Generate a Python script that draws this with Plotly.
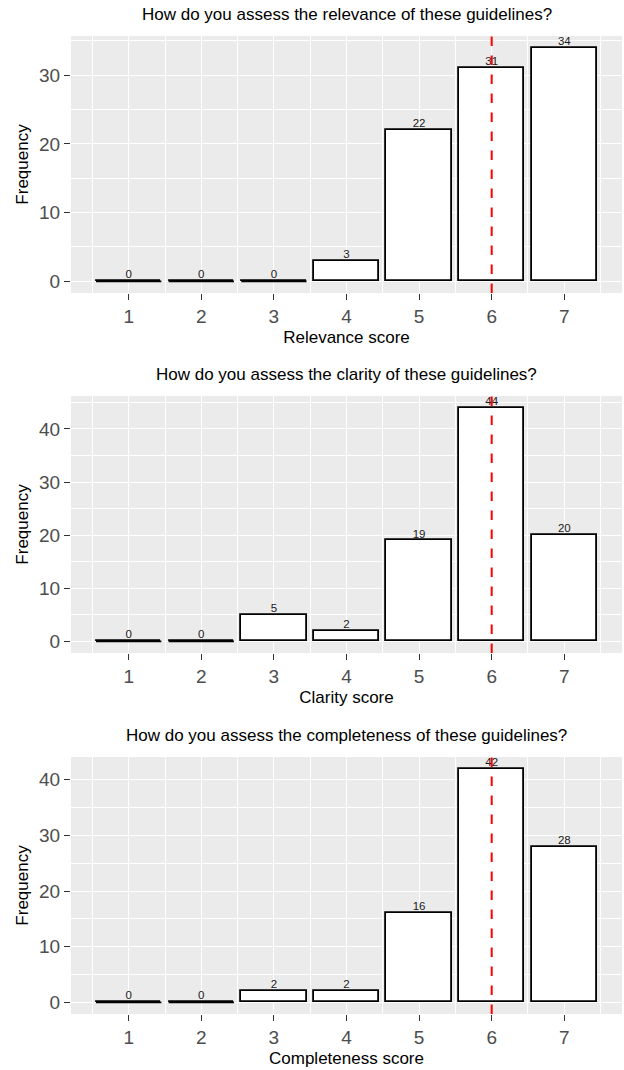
import plotly.graph_objects as go
from plotly.subplots import make_subplots

categories = [1, 2, 3, 4, 5, 6, 7]
relevance = [0, 0, 0, 3, 22, 31, 34]
clarity = [0, 0, 5, 2, 19, 44, 20]
completeness = [0, 0, 2, 2, 16, 42, 28]
medians = [6, 6, 6]
titles = [
    "How do you assess the relevance of these guidelines?",
    "How do you assess the clarity of these guidelines?",
    "How do you assess the completeness of these guidelines?",
]
xlabels = ["Relevance score", "Clarity score", "Completeness score"]
series = [relevance, clarity, completeness]

FONT = "Liberation Sans, Arial, Helvetica, sans-serif"
W, H = 624, 1070
mt, mb, ml, mr = 36, 56, 71, 2
plot_h = H - mt - mb
panel_px = [(36, 293), (396, 653), (757, 1014)]

fig = make_subplots(rows=3, cols=1, vertical_spacing=0.1)

for i, (vals, title, xlab, med) in enumerate(zip(series, titles, xlabels, medians), start=1):
    fig.add_trace(go.Bar(
        x=categories, y=vals, width=0.9,
        marker=dict(color="white", line=dict(color="black", width=1.8)),
        hoverinfo="skip", showlegend=False), row=i, col=1)
    for c, v in zip(categories, vals):
        if v == 0:
            fig.add_trace(go.Scatter(
                x=[c - 0.45, c + 0.45], y=[v, v], mode="lines",
                line=dict(color="black", width=1.8),
                hoverinfo="skip", showlegend=False), row=i, col=1)
    fig.add_trace(go.Scatter(
        x=categories, y=vals, mode="text", text=[str(v) for v in vals],
        textposition="top center", marker=dict(size=1),
        textfont=dict(family=FONT, size=11.5, color="#1A1A1A"),
        hoverinfo="skip", showlegend=False), row=i, col=1)
    fig.add_vline(x=med, line=dict(color="red", width=2, dash="9.5px,9.5px"),
                  layer="above", row=i, col=1)

    vmax = max(vals)
    top, bot = panel_px[i - 1]
    dom = [(H - mb - bot) / plot_h, (H - mb - top) / plot_h]
    fig.update_yaxes(
        row=i, col=1, domain=dom, range=[-0.05 * vmax, 1.05 * vmax],
        tick0=0, dtick=10, ticks="outside", ticklen=6, tickwidth=1.2,
        tickcolor="#333333", tickfont=dict(family=FONT, size=19, color="#4D4D4D"),
        showgrid=True, gridcolor="white", gridwidth=1.3, zeroline=False,
        minor=dict(dtick=5, tick0=0, showgrid=True, gridcolor="white", gridwidth=0.6),
        title=dict(text="Frequency", font=dict(family=FONT, size=17, color="black"), standoff=6),
        showline=False, automargin=False)
    fig.update_xaxes(
        row=i, col=1, range=[0.205, 7.795],
        tickvals=categories, ticktext=[str(c) for c in categories],
        ticks="outside", ticklen=6, tickwidth=1.2, tickcolor="#333333",
        tickfont=dict(family=FONT, size=19, color="#4D4D4D"),
        showgrid=True, gridcolor="white", gridwidth=1.3, zeroline=False,
        minor=dict(dtick=0.5, tick0=0.5, showgrid=True, gridcolor="white", gridwidth=0.6),
        title=dict(text=xlab, font=dict(family=FONT, size=17, color="black"), standoff=5),
        showline=False, automargin=False)
    yref = "y domain" if i == 1 else f"y{i} domain"
    xref = "x domain" if i == 1 else f"x{i} domain"
    fig.add_annotation(text=title, xref=xref, yref=yref, x=0.5, y=1,
                       yshift=22, yanchor="middle", xanchor="center",
                       showarrow=False, font=dict(family=FONT, size=17, color="black"))

fig.update_layout(
    width=W, height=H, margin=dict(l=ml, r=mr, t=mt, b=mb),
    paper_bgcolor="white", plot_bgcolor="#EBEBEB", bargap=0,
    showlegend=False, font=dict(family=FONT))

fig.write_html("out.html", config={"displayModeBar": False},
               post_script="document.body.style.margin='0';document.body.style.overflow='hidden';")
